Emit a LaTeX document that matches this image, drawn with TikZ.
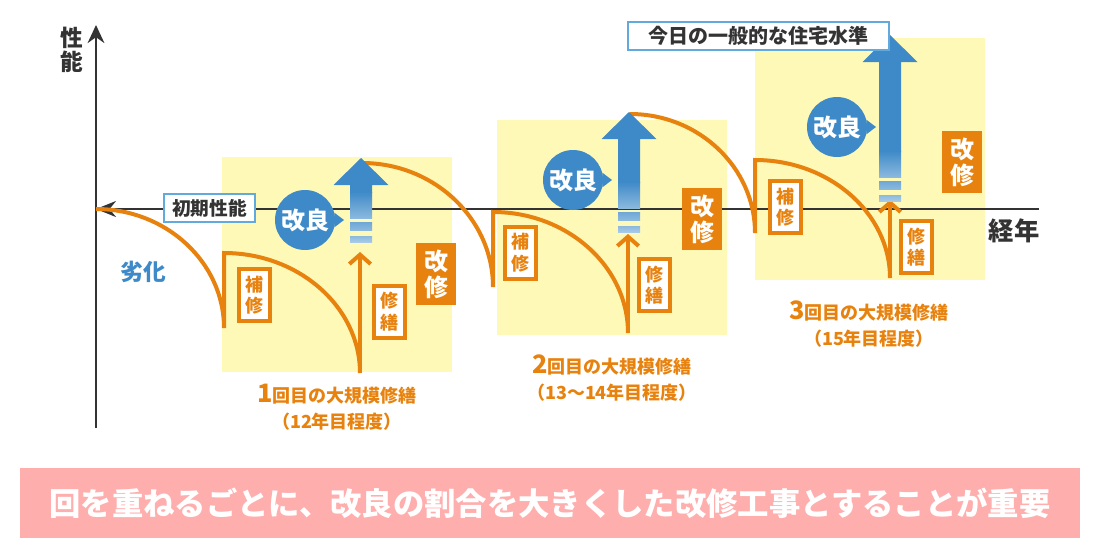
\documentclass[tikz,border=0pt]{standalone}
\usepackage{fontspec}
\setmainfont{Noto Sans CJK JP}
\usepackage{tikz}
\usetikzlibrary{arrows.meta,positioning,calc}
\definecolor{kairyoblue}{HTML}{3E8AC8}
\definecolor{shuorange}{HTML}{E8820E}
\definecolor{zoneyellow}{HTML}{FFF9B8}
\definecolor{framebl}{HTML}{62A9DE}
\definecolor{axisgray}{HTML}{333333}
\definecolor{bannerpink}{HTML}{FFAEAE}

\begin{document}
\begin{tikzpicture}[
  x=0.75pt, y=-0.75pt,
  font=\bfseries,
  zone/.style={fill=zoneyellow},
  axis/.style={draw=axisgray, line width=1.9pt},
  decay/.style={draw=shuorange, line width=3pt, line join=miter},
  repair/.style={decay, -{Straight Barb[length=7pt,width=16pt]}},
  kairyo/.style={circle, fill=kairyoblue, text=white, minimum size=45pt,
    inner sep=0pt, font=\bfseries\fontsize{18}{18}\selectfont},
  kaishu/.style={fill=shuorange, text=white, minimum width=30pt,
    minimum height=46.5pt, inner sep=0pt, align=center,
    font=\bfseries\fontsize{18}{19.5}\selectfont},
  hoshu/.style={draw=shuorange, line width=3pt, fill=white, text=shuorange,
    minimum width=23.25pt, minimum height=39pt, inner sep=0pt, align=center,
    font=\bfseries\fontsize{13.5}{16}\selectfont},
  tag/.style={draw=framebl, line width=1.9pt, fill=white, text=axisgray,
    inner sep=0pt, font=\bfseries\fontsize{14}{14}\selectfont},
  yearlabel/.style={text=shuorange, align=center,
    font=\bfseries\fontsize{13.5}{19.5}\selectfont},
  banner/.style={fill=bannerpink, text=white, minimum width=795pt,
    minimum height=52.5pt, inner sep=0pt,
    font=\bfseries\fontsize{23.5}{23.5}\selectfont}
]
\useasboundingbox (0,0) rectangle (1100,558);

% yellow zones of the large-scale repairs
\fill[zone] (222,157) rectangle (452,372);
\fill[zone] (497,120) rectangle (727,335);
\fill[zone] (755,38) rectangle (985,280);

% axes
\coordinate (origin) at (96,209);
\coordinate (ytop) at (96,25);
\coordinate (ybot) at (96,428);
\coordinate (xend) at (1039,209);
\draw[axis, -{Stealth[length=13.5pt,width=12.5pt]}] (ybot) -- (ytop);
\draw[axis, -{Stealth[length=15pt,width=12pt]}] (xend) -- (origin);

% key points of the performance curve
\coordinate (low1) at (224,328);  \coordinate (top1) at (224,253);
\coordinate (base1) at (360,373); \coordinate (fix1) at (360,252);
\coordinate (up1) at (361,158);   \coordinate (start2) at (362,163);
\coordinate (low2) at (493,287);  \coordinate (top2) at (493,212);
\coordinate (base2) at (628,333); \coordinate (fix2) at (628,234);
\coordinate (up2) at (629,112);   \coordinate (start3) at (630,114);
\coordinate (low3) at (755,233);  \coordinate (top3) at (755,160);
\coordinate (base3) at (890,278); \coordinate (fix3) at (890,200);
\coordinate (up3) at (890,35);

\foreach \s/\l/\t/\b in {origin/low1/top1/base1,start2/low2/top2/base2,start3/low3/top3/base3}
  \draw[decay] (\s) .. controls ($(\s)!0.55!(\s -| \l)$) and ($(\l)!0.55!(\s -| \l)$) .. (\l)
    -- (\t) .. controls ($(\t)!0.55!(\t -| \b)$) and ($(\b)!0.55!(\t -| \b)$) .. (\b);

\foreach \i in {1,2,3}
  \draw[repair] (base\i) -- (fix\i);

% improvement arrows
\foreach \tip/\len in {up1/60,up2/96,up3/142} {
  \fill[kairyoblue] (\tip) -- ++(27.5,27) -- ++(-16.5,0) -- ++(0,\len-52)
    -- ++(-22,0) -- ++(0,52-\len) -- ++(-16.5,0) -- cycle;
  \shade[top color=kairyoblue, bottom color=kairyoblue!60!white]
    ($(\tip)+(-11,\len-26)$) rectangle ($(\tip)+(11,\len)$);
  \shade[top color=kairyoblue!75!white, bottom color=kairyoblue!60!white]
    ($(\tip)+(-11,\len+4)$) rectangle ($(\tip)+(11,\len+12)$);
  \shade[top color=kairyoblue!60!white, bottom color=kairyoblue!45!white]
    ($(\tip)+(-11,\len+18)$) rectangle ($(\tip)+(11,\len+24)$);
}

\node[kairyo] (k1) at (305,220) {改良};
\node[kairyo] (k2) at (573,180) {改良};
\node[kairyo] (k3) at (837,127) {改良};
\foreach \k in {k1,k2,k3}
  \fill[kairyoblue] (\k.14) -- ($(\k.center)+(39,0)$) -- (\k.-14) -- cycle;

\node[kaishu] (ks1) at (436,274) {改\\修};
\node[kaishu] (ks2) at (702,219) {改\\修};
\node[kaishu] (ks3) at (962,162) {改\\修};

\node[hoshu] (hs1) at (254.5,295) {補\\修};
\node[hoshu] (hs2) at (520,252.5) {補\\修};
\node[hoshu] (hs3) at (785.5,207) {補\\修};

\node[hoshu] (sz1) at (389,311.5) {修\\繕};
\node[hoshu] (sz2) at (654.5,285) {修\\繕};
\node[hoshu] (sz3) at (916.5,247) {修\\繕};

\node[yearlabel] (yr1) at (337,407) {{\fontsize{19}{19}\selectfont 1}回目の大規模修繕\\（12年目程度）};
\node[yearlabel] (yr2) at (612,378) {{\fontsize{19}{19}\selectfont 2}回目の大規模修繕\\（13～14年目程度）};
\node[yearlabel] (yr3) at (869,324) {{\fontsize{19}{19}\selectfont 3}回目の大規模修繕\\（15年目程度）};

% labels
\node[tag, minimum width=68pt, minimum height=20.75pt] (init) at (209.5,208) {初期性能};
\node[tag, minimum width=195.5pt, minimum height=20.75pt,
  font=\bfseries\fontsize{15}{15}\selectfont] (today) at (758.5,36) {今日の一般的な住宅水準};
\node[text=axisgray, align=center, font=\bfseries\fontsize{17}{18}\selectfont] (perf) at (72,50) {性\\能};
\node[text=axisgray, font=\bfseries\fontsize{19}{19}\selectfont] (years) at (1014,231) {経年};
\node[text=kairyoblue, font=\bfseries\fontsize{17}{17}\selectfont] (decline) at (143,272) {劣化};

\node[banner] (msg) at (550,503) {回を重ねるごとに、改良の割合を大きくした改修工事とすることが重要};
\end{tikzpicture}
\end{document}
